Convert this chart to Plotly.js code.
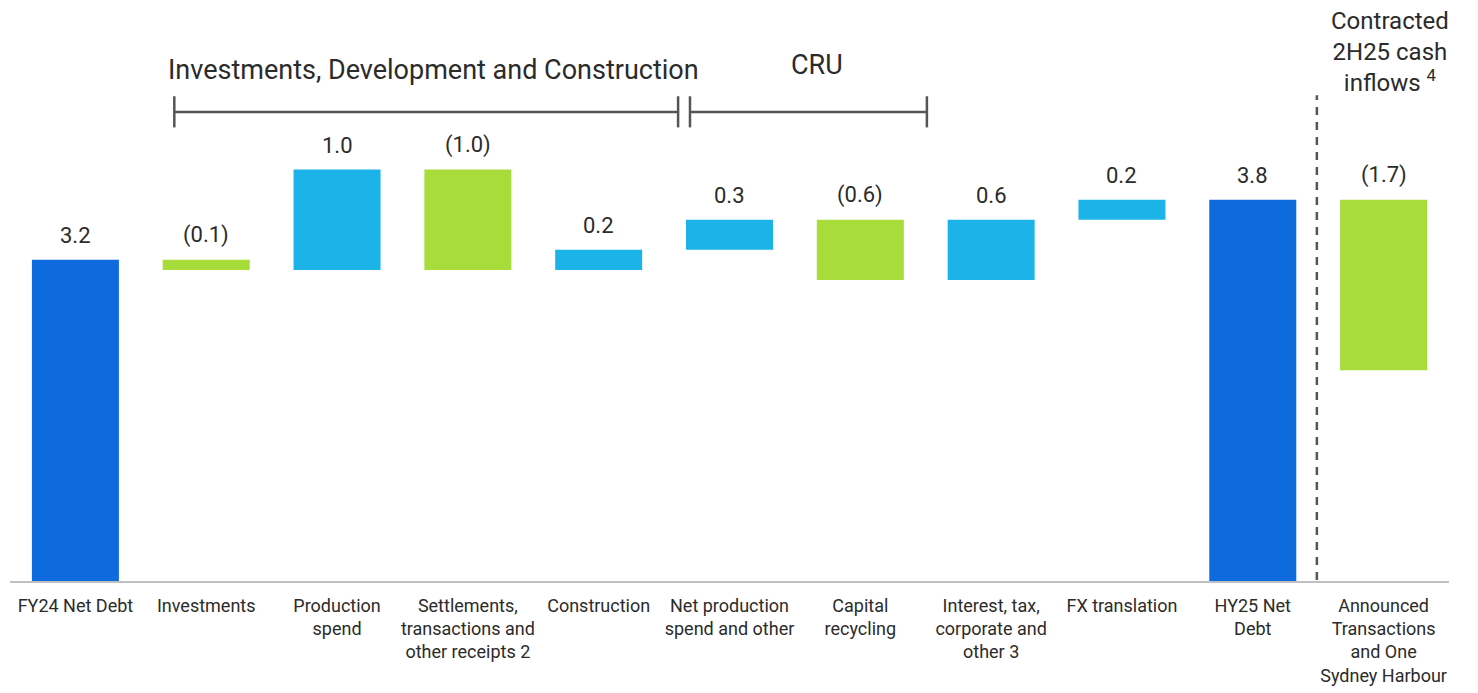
<!DOCTYPE html>
<html>
<head>
<meta charset="utf-8">
<script src="https://cdn.plot.ly/plotly-3.0.1.min.js"></script>
<style>
  html, body { margin: 0; padding: 0; background: #fff; }
  #chart { width: 1478px; height: 693px; }
</style>
</head>
<body>
<div id="chart"></div>
<script>
// Net debt bridge FY24 -> HY25 ($bn)
const categories = [
    'FY24 Net Debt',
    'Investments',
    'Production<br>spend',
    'Settlements,<br>transactions and<br>other receipts 2',
    'Construction',
    'Net production<br>spend and other',
    'Capital<br>recycling',
    'Interest, tax,<br>corporate and<br>other 3',
    'FX translation',
    'HY25 Net<br>Debt',
    'Announced<br>Transactions<br>and One<br>Sydney Harbour'
];
const values = [3.2, -0.1, 1.0, -1.0, 0.2, 0.3, -0.6, 0.6, 0.2, 3.8, -1.7];
const measures = ['absolute', 'relative', 'relative', 'relative', 'relative', 'relative',
    'relative', 'relative', 'relative', 'total', 'relative'];

const colTotal = '#0D6BDD';
const colUp = '#1BB3E8';
const colDown = '#A8DC3A';
const textCol = '#2b2b2b';
const font = 'Roboto, "Liberation Sans", Arial, sans-serif';

// label each step as 3.2 or (0.1)
function fmt(v) {
    return v < 0 ? '(' + Math.abs(v).toFixed(1) + ')' : v.toFixed(1);
}

// top of each bar, to hang the value label on
let run = 0;
let tops = [];
for (let i = 0; i < values.length; i++) {
    if (measures[i] === 'absolute') {
        run = values[i];
        tops.push(run);
    } else if (measures[i] === 'total') {
        tops.push(run);
    } else {
        let start = run;
        run = run + values[i];
        tops.push(Math.max(start, run));
    }
}

let trace = {
    type: 'waterfall',
    x: categories,
    y: values,
    measure: measures,
    width: 0.665,
    connector: { visible: false },
    totals: { marker: { color: colTotal } },
    increasing: { marker: { color: colUp } },
    decreasing: { marker: { color: colDown } },
    hoverinfo: 'skip',
    textinfo: 'none'
};

let annotations = categories.map((c, i) => ({
    x: c,
    y: tops[i],
    yref: 'y',
    text: fmt(i === 9 ? tops[i] : values[i]),
    showarrow: false,
    yanchor: 'bottom',
    yshift: 10,
    font: { family: font, size: 22, color: textCol }
}));

annotations.push({
    x: 2.739, y: 5.092, xref: 'x', yref: 'y',
    text: 'Investments, Development and Construction',
    showarrow: false, yanchor: 'middle',
    font: { family: font, size: 27, color: textCol }
});
annotations.push({
    x: 5.668, y: 5.142, xref: 'x', yref: 'y',
    text: 'CRU',
    showarrow: false, yanchor: 'middle',
    font: { family: font, size: 27, color: textCol }
});
annotations.push({
    x: 10.05, y: 5.27, xref: 'x', yref: 'y',
    text: 'Contracted<br>2H25 cash<br>inflows <sup>4</sup>',
    showarrow: false, yanchor: 'middle',
    font: { family: font, size: 24, color: textCol }
});

const lineCol = '#555555';
let shapes = [
    // group brackets
    { type: 'line', xref: 'x', yref: 'y', x0: 0.756, x1: 4.607, y0: 4.673, y1: 4.673, line: { color: lineCol, width: 2.5 } },
    { type: 'line', xref: 'x', yref: 'y', x0: 0.756, x1: 0.756, y0: 4.52, y1: 4.83, line: { color: lineCol, width: 2.5 } },
    { type: 'line', xref: 'x', yref: 'y', x0: 4.607, x1: 4.607, y0: 4.52, y1: 4.83, line: { color: lineCol, width: 2.5 } },
    { type: 'line', xref: 'x', yref: 'y', x0: 4.698, x1: 6.509, y0: 4.673, y1: 4.673, line: { color: lineCol, width: 2.5 } },
    { type: 'line', xref: 'x', yref: 'y', x0: 4.698, x1: 4.698, y0: 4.52, y1: 4.83, line: { color: lineCol, width: 2.5 } },
    { type: 'line', xref: 'x', yref: 'y', x0: 6.509, x1: 6.509, y0: 4.52, y1: 4.83, line: { color: lineCol, width: 2.5 } },
    // divider before contracted inflows
    { type: 'line', xref: 'x', yref: 'y', x0: 9.49, x1: 9.49, y0: -0.14, y1: 4.84, line: { color: lineCol, width: 2.5, dash: '8px,7px' } }
];

let layout = {
    width: 1478,
    height: 693,
    margin: { l: 10, r: 29, t: 19, b: 112 },
    paper_bgcolor: '#ffffff',
    plot_bgcolor: '#ffffff',
    showlegend: false,
    hovermode: false,
    xaxis: {
        type: 'category',
        range: [-0.5, 10.5],
        showline: true,
        linecolor: '#c0c0c0',
        linewidth: 2,
        ticks: '',
        ticklabelstandoff: 7,
        tickfont: { family: font, size: 18, color: textCol },
        showgrid: false,
        zeroline: false
    },
    yaxis: {
        range: [0, 5.6],
        showticklabels: false,
        showgrid: false,
        zeroline: false,
        showline: false
    },
    annotations: annotations,
    shapes: shapes
};

Plotly.newPlot('chart', [trace], layout, { displayModeBar: false, staticPlot: true });
</script>
</body>
</html>
